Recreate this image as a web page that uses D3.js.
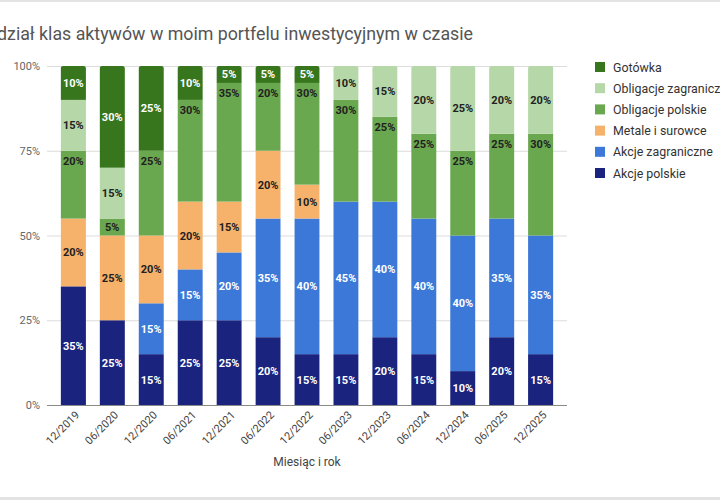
<!DOCTYPE html>
<html>
<head>
<meta charset="utf-8">
<script src="https://cdn.jsdelivr.net/npm/d3@7"></script>
<style>
  body { margin: 0; background: #fff; }
  svg { display: block; font-family: Roboto, "Noto Sans", sans-serif; }
</style>
</head>
<body>
<div id="chart"></div>
<script>
// months on the x axis
const months = ['12/2019', '06/2020', '12/2020', '06/2021', '12/2021', '06/2022', '12/2022',
  '06/2023', '12/2023', '06/2024', '12/2024', '06/2025', '12/2025']

// series, stacked from the bottom up
const seriesNames = ['Akcje polskie', 'Akcje zagraniczne', 'Metale i surowce',
  'Obligacje polskie', 'Obligacje zagraniczne', 'Gotówka']

const akcjePolskie       = [35, 25, 15, 25, 25, 20, 15, 15, 20, 15, 10, 20, 15]
const akcjeZagraniczne   = [0, 0, 15, 15, 20, 35, 40, 45, 40, 40, 40, 35, 35]
const metaleSurowce      = [20, 25, 20, 20, 15, 20, 10, 0, 0, 0, 0, 0, 0]
const obligacjePolskie   = [20, 5, 25, 30, 35, 20, 30, 30, 25, 25, 25, 25, 30]
const obligacjeZagr      = [15, 15, 0, 0, 0, 0, 0, 10, 15, 20, 25, 20, 20]
const gotowka            = [10, 30, 25, 10, 5, 5, 5, 0, 0, 0, 0, 0, 0]

const yTicks = [0, 25, 50, 75, 100]

const colors = ['#1a237e', '#3c78d8', '#f6b26b', '#6aa84f', '#b6d7a8', '#38761d']
const labelColors = ['#fff', '#fff', '#212121', '#212121', '#212121', '#fff']

const title = 'Podział klas aktywów w moim portfelu inwestycyjnym w czasie'
const xTitle = 'Miesiąc i rok'

// build table for d3.stack
const seriesValues = [akcjePolskie, akcjeZagraniczne, metaleSurowce, obligacjePolskie, obligacjeZagr, gotowka]
const table = months.map((m, i) => {
  const row = { month: m }
  seriesNames.forEach((s, j) => { row[s] = seriesValues[j][i] })
  return row
})

const W = 720
const H = 500
const margin = { t: 66, r: 153, b: 95, l: 47 }
const innerWidth = W - margin.l - margin.r
const innerHeight = H - margin.t - margin.b

const svg = d3.select('#chart')
  .append('svg')
  .attr('width', W)
  .attr('height', H)

// thin frame lines from the screenshot
svg.append('rect').attr('x', 0).attr('y', 0).attr('width', W).attr('height', 2).attr('fill', '#e3e3e3')
svg.append('rect').attr('x', 0).attr('y', 497).attr('width', W).attr('height', 3).attr('fill', '#e3e3e3')

svg.append('text')
  .attr('x', 473)
  .attr('y', 40)
  .attr('text-anchor', 'end')
  .attr('font-size', 17.8)
  .attr('fill', '#555')
  .text(title)

const scaleX = d3.scaleBand()
  .domain(months)
  .range([0, innerWidth])
  .paddingInner(0.35)
  .paddingOuter(0.35)

const scaleY = d3.scaleLinear().domain([0, 100]).range([innerHeight, 0])

const plot = svg.append('g')
  .attr('class', 'plot')
  .attr('transform', `translate(${margin.l}, ${margin.t})`)

// grid + y axis
const axisY = d3.axisLeft()
  .scale(scaleY)
  .tickValues(yTicks)
  .tickSize(-innerWidth)
  .tickFormat(d => d + '%')

const gy = plot.append('g')
  .attr('class', 'axis axis-y')
  .call(axisY)
gy.select('.domain').remove()
gy.selectAll('line').attr('stroke', d => d === 0 ? '#8a8a8a' : '#dcdcdc')
gy.selectAll('text')
  .attr('x', -7)
  .attr('font-size', 11)
  .attr('fill', '#666')
  .attr('font-family', 'Roboto, sans-serif')

const stacked = d3.stack().keys(seriesNames)(table)

// clip per bar for the slightly rounded top
const defs = svg.append('defs')
months.forEach((m, i) => {
  defs.append('clipPath')
    .attr('id', 'clip' + i)
    .append('rect')
    .attr('x', scaleX(m))
    .attr('y', scaleY(100))
    .attr('width', scaleX.bandwidth())
    .attr('height', innerHeight + 10)
    .attr('rx', 2.5)
})

const layers = plot.selectAll('.layer')
  .data(stacked)
  .enter()
  .append('g')
  .attr('class', 'layer')
  .attr('fill', (d, i) => colors[i])

layers.selectAll('rect')
  .data(d => d.map(v => Object.assign(v, { key: d.key })))
  .enter()
  .append('rect')
  .attr('clip-path', (d, i) => `url(#clip${i})`)
  .attr('x', d => scaleX(d.data.month))
  .attr('y', d => scaleY(d[1]))
  .attr('width', scaleX.bandwidth())
  .attr('height', d => scaleY(d[0]) - scaleY(d[1]))

// value labels, drawn after all bars
const labels = plot.append('g').attr('class', 'labels')
stacked.forEach((layer, li) => {
  labels.selectAll('.lbl' + li)
    .data(layer.filter(d => d[1] - d[0] > 0))
    .enter()
    .append('text')
    .attr('class', 'lbl' + li)
    .attr('x', d => scaleX(d.data.month) + scaleX.bandwidth() / 2)
    .attr('y', d => {
      const top = scaleY(d[1])
      const mid = (scaleY(d[0]) + top) / 2
      // Obligacje polskie labels sit near the top of the segment
      const c = layer.key === 'Obligacje polskie' ? Math.min(mid, top + 10) : mid
      return c + 4
    })
    .attr('text-anchor', 'middle')
    .attr('font-size', 11)
    .attr('font-weight', 'bold')
    .attr('fill', labelColors[li])
    .text(d => (d[1] - d[0]) + '%')
})

// x axis
const axisX = d3.axisBottom()
  .scale(scaleX)
  .tickSize(0)

const gx = plot.append('g')
  .attr('class', 'axis axis-x')
  .attr('transform', `translate(0, ${innerHeight})`)
  .call(axisX)
gx.select('.domain').remove()
gx.selectAll('text')
  .attr('font-size', 11)
  .attr('fill', '#444')
  .attr('font-family', 'Roboto, sans-serif')
  .attr('text-anchor', 'end')
  .attr('transform', 'translate(4, 8) rotate(-45)')
  .attr('dy', '0.35em')
  .attr('y', 0)

plot.append('text')
  .attr('x', innerWidth / 2)
  .attr('y', 466 - margin.t)
  .attr('text-anchor', 'middle')
  .attr('font-size', 12)
  .attr('fill', '#444')
  .text(xTitle)

// legend, top series first
const legendNames = seriesNames.slice().reverse()
const legendColors = colors.slice().reverse()
const legend = svg.append('g')
  .attr('class', 'legend')
  .attr('transform', 'translate(595, 62)')

const items = legend.selectAll('g')
  .data(legendNames)
  .enter()
  .append('g')
  .attr('transform', (d, i) => `translate(0, ${i * 21.2})`)

items.append('rect')
  .attr('width', 10)
  .attr('height', 10)
  .attr('fill', (d, i) => legendColors[i])

items.append('text')
  .attr('x', 18)
  .attr('y', 9.5)
  .attr('font-size', 12.4)
  .attr('fill', '#333')
  .text(d => d)
</script>
</body>
</html>
